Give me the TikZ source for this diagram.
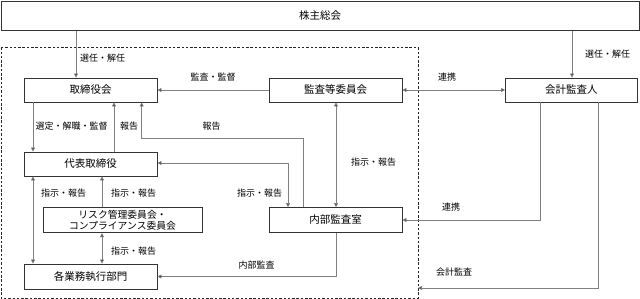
\documentclass[tikz,border=0pt]{standalone}
\usepackage{fontspec}
\setmainfont{Noto Sans CJK JP}
\usetikzlibrary{arrows.meta}
\tikzset{
  box/.style={draw=black!80, line width=0.9pt, fill=white, minimum width=133pt, minimum height=24pt, inner sep=0pt, font=\fontsize{10.5}{12}\selectfont},
  lbl/.style={inner sep=0pt, font=\fontsize{9}{10}\selectfont},
  conn/.style={draw=black!50, line width=0.8pt, >={Triangle[length=4pt,width=4pt,fill=black]}},
  dashbox/.style={draw=black!85, line width=0.8pt, dash pattern=on 2.5pt off 1.8pt}
}
\begin{document}
\begin{tikzpicture}[x=1pt,y=-1pt]
\useasboundingbox (0,0) rectangle (640,299);
% dashed boundary
\draw[dashbox] (1,47.3) rectangle (418,298);
% nodes
\node[box, minimum width=638pt, minimum height=29.5pt] (top) at (320,15.75) {株主総会};
\node[box] (tb) at (90.5,90) {取締役会};
\node[box] (kansa) at (335.5,90) {監査等委員会};
\node[box, minimum width=131.5pt] (kaikei) at (571.25,90) {会計監査人};
\node[box] (daihyo) at (90.5,164) {代表取締役};
\node[box, minimum width=159pt, minimum height=25.5pt, align=center, font=\fontsize{9.8}{11}\selectfont] (risk) at (122.5,220) {リスク管理委員会・\\コンプライアンス委員会};
\node[box, minimum height=25pt] (naibu) at (335.5,220) {内部監査室};
\node[box, minimum height=25pt] (gyomu) at (90.5,276.5) {各業務執行部門};
\coordinate (dashR) at (418,288);
% connectors
\draw[conn,->] ([xshift=-14.5pt]tb.north |- top.south) -- ([xshift=-14.5pt]tb.north);
\draw[conn,->] ([xshift=0.75pt]kaikei.north |- top.south) -- ([xshift=0.75pt]kaikei.north);
\draw[conn,->] (kansa.west) -- (tb.east);
\draw[conn,<->] (kansa.east) -- (kaikei.west);
\draw[conn,->] ([xshift=-57.5pt]tb.south) -- ([xshift=-57.5pt]daihyo.north);
\draw[conn,->] ([xshift=23.5pt]daihyo.north) -- ([xshift=23.5pt]tb.south);
\draw[conn,->] ([xshift=-32.5pt]naibu.north) -- ++(0,-69) -| ([xshift=51.2pt]tb.south);
\draw[conn,<->] ([yshift=1pt]daihyo.east) -| ([xshift=-47.5pt]naibu.north);
\draw[conn,<->] ([xshift=-57.5pt]daihyo.south) -- ([xshift=-57.5pt]gyomu.north);
\draw[conn,->] ([xshift=-20.5pt]risk.north) -- ([xshift=-20.5pt]risk.north |- daihyo.south);
\draw[conn,<->] ([xshift=-20.5pt]risk.south) -- ([xshift=-20.5pt]risk.south |- gyomu.north);
\draw[conn,<->] ([xshift=0.5pt]kansa.south) -- ([xshift=0.5pt]naibu.north);
\draw[conn,->] ([xshift=0.5pt]naibu.south) |- (gyomu.east);
\draw[conn,->] ([xshift=-30.5pt]kaikei.south) |- (naibu.east);
\draw[conn,->] ([xshift=27pt]kaikei.south) |- (dashR);
% labels
\node[lbl, anchor=west] (l1) at (80,58) {選任・解任};
\node[lbl, anchor=west] (l2) at (585,54) {選任・解任};
\node[lbl] (l3) at (213,77) {監査・監督};
\node[lbl] (l4) at (447,77) {連携};
\node[lbl] (l5) at (71.5,126) {選定・解職・監督};
\node[lbl] (l6) at (129,126) {報告};
\node[lbl] (l7) at (211.5,126) {報告};
\node[lbl] (l8) at (373.5,162) {指示・報告};
\node[lbl] (l9) at (63.5,193) {指示・報告};
\node[lbl] (l10) at (133.5,193) {指示・報告};
\node[lbl] (l11) at (259.5,193) {指示・報告};
\node[lbl] (l12) at (133.5,251) {指示・報告};
\node[lbl] (l13) at (256.5,265) {内部監査};
\node[lbl] (l14) at (451,207) {連携};
\node[lbl] (l15) at (454,272.5) {会計監査};
\end{tikzpicture}
\end{document}
